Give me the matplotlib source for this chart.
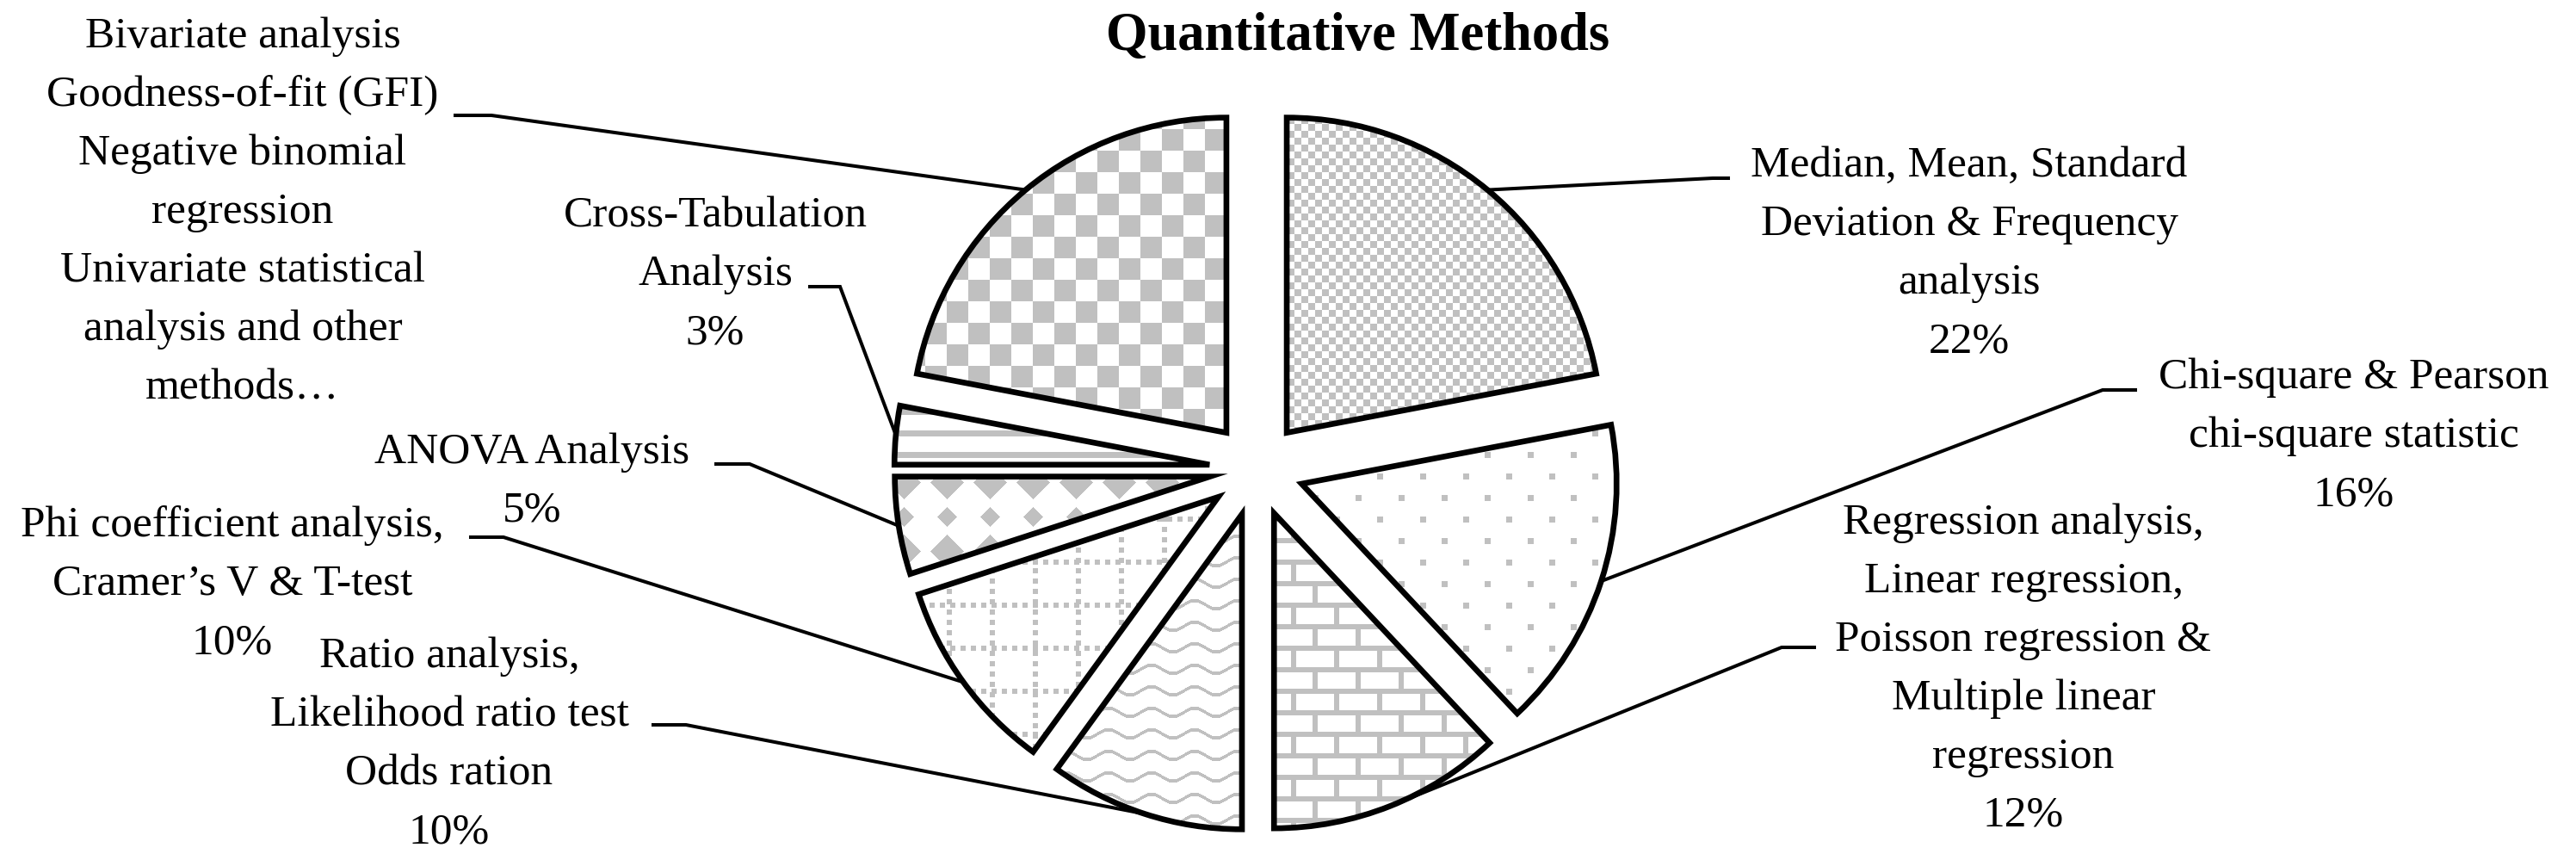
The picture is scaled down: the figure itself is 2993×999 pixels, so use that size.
import numpy as np
import matplotlib
matplotlib.use("Agg")
import matplotlib.pyplot as plt
from matplotlib.colors import ListedColormap

W, H = 2993, 999

# data, clockwise from 12 o'clock
methods = [
    ["Median, Mean, Standard", "Deviation & Frequency", "analysis"],
    ["Chi-square & Pearson", "chi-square statistic"],
    ["Regression analysis,", "Linear regression,", "Poisson regression &",
     "Multiple linear", "regression"],
    ["Ratio analysis,", "Likelihood ratio test", "Odds ration"],
    ["Phi coefficient analysis,", "Cramer\u2019s V & T-test"],
    ["ANOVA Analysis"],
    ["Cross-Tabulation", "Analysis"],
    ["Bivariate analysis", "Goodness-of-fit (GFI)", "Negative binomial",
     "regression", "Univariate statistical", "analysis and other",
     "methods\u2026"],
]
shares = [22, 16, 12, 10, 10, 5, 3, 22]
show_pct = [True, True, True, True, True, True, True, False]

# layout (pixel coords, y from top)
label_cx = [2288, 2735, 2351, 522, 270, 618, 831, 282]
label_base = [205, 451, 620, 775, 623, 538, 263, 55]
line_step = 68
elbows = [(1990, 207), (2443, 453), (2070, 752), (797, 842),
          (585, 624), (871, 539), (976, 333), (571, 134)]
line_ends = [(2008, 207), (2481, 453), (2108, 752), (759, 842),
             (547, 624), (832, 539), (941, 333), (529, 134)]

# textures (grey on white, one per slice)
yy, xx = np.mgrid[0:H, 0:W]
row = np.round(yy / 40)
half = np.where(row % 2 == 0, 19, 11)
diamonds = (np.abs(xx - np.round(xx / 50) * 50) + np.abs(yy - row * 40)) <= half
textures = [
    ((xx // 8 + yy // 8) % 2 == 0),
    ((yy % 25) < 7) & (((xx + 25 * ((yy // 25) % 2)) % 50) < 7),
    ((yy % 25) < 6) | (((xx + 25 * ((yy // 25) % 2)) % 50) < 6),
    (((yy - 5 * np.sin(2 * np.pi * xx / 50)) % 25) < 4),
    (((xx % 50) < 6) & ((yy % 12) < 6)) | (((yy % 50) < 6) & ((xx % 12) < 6)),
    diamonds,
    (yy % 25) < 7,
    ((xx // 25 + yy // 25) % 2 == 0),
]
tex_cmap = ListedColormap(["white", "#c0c0c0"])

plt.rcParams["font.family"] = ["Liberation Serif", "DejaVu Serif"]

fig = plt.figure(figsize=(W / 100, H / 100), dpi=100)
ax = fig.add_axes([0, 0, 1, 1])

wedges, _ = ax.pie(shares, startangle=90, counterclock=False,
                   center=(1460, H - 545), radius=366, explode=[55] * 8,
                   colors=["none"] * 8,
                   wedgeprops=dict(edgecolor="black", linewidth=4.8,
                                   joinstyle="miter", zorder=3))

for w, tex in zip(wedges, textures):
    im = ax.imshow(tex.astype(float), cmap=tex_cmap, vmin=0, vmax=1,
                   extent=(0, W, 0, H), origin="upper",
                   interpolation="nearest", zorder=2)
    im.set_clip_path(w)

for i, w in enumerate(wedges):
    mid = np.deg2rad((w.theta1 + w.theta2) / 2)
    px = w.center[0] + w.r * np.cos(mid)
    py = w.center[1] + w.r * np.sin(mid)
    ex, ey = elbows[i]
    tx, ty = line_ends[i]
    ax.plot([px, ex, tx], [py, H - ey, H - ty], color="black", lw=2.9,
            solid_joinstyle="miter", zorder=1)

    lines = list(methods[i])
    if show_pct[i]:
        lines.append(f"{shares[i]}%")
    for k, txt in enumerate(lines):
        ax.text(label_cx[i], H - (label_base[i] + k * line_step), txt,
                ha="center", va="baseline", fontsize=37, zorder=4)

ax.text(1578, H - 58, "Quantitative Methods", ha="center", va="baseline",
        fontsize=45, fontweight="bold")

ax.set_xlim(0, W)
ax.set_ylim(0, H)
ax.axis("off")

fig.savefig("out.png", dpi=100, facecolor="white")
